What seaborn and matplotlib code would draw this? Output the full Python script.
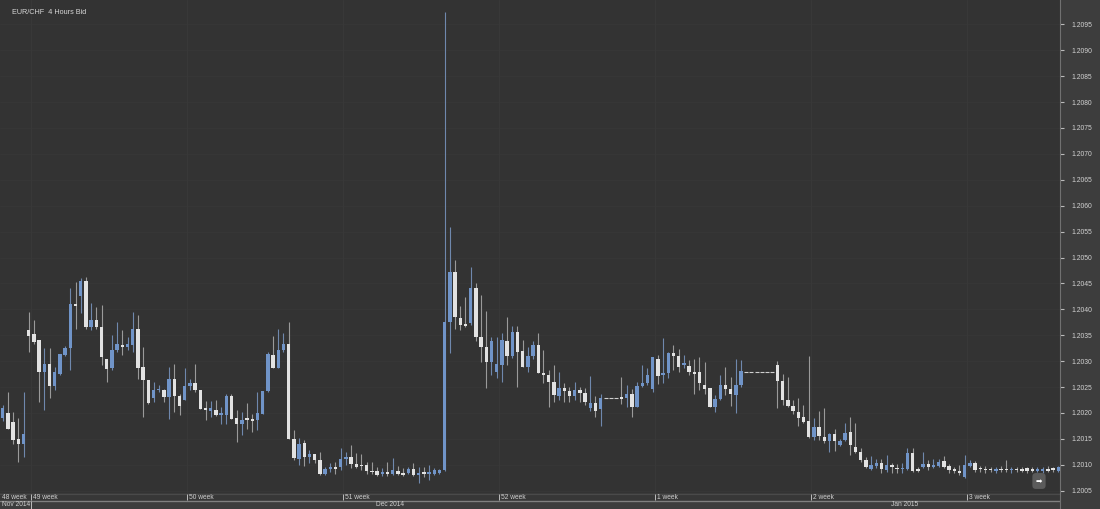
import numpy as np
import pandas as pd
import seaborn as sns
import matplotlib.pyplot as plt

# EUR/CHF 4h candles (open, high, low, close)
opens = [1.2019, 1.2020, 1.20183, 1.20149, 1.20141, 1.20361, 1.20352, 1.20341, 1.20279, 1.20294,
         1.20252, 1.20276, 1.20312, 1.20326, 1.2041, 1.20425, 1.20454, 1.20365, 1.2038, 1.20365,
         1.20305, 1.20286, 1.20321, 1.20329, 1.20328, 1.20331, 1.20363, 1.20288, 1.20263, 1.20228,
         1.20244, 1.20244, 1.20231, 1.20266, 1.20232, 1.20226, 1.20252, 1.20258, 1.20244, 1.2021,
         1.20204, 1.20206, 1.20197, 1.20197, 1.20232, 1.2019, 1.20179, 1.20189, 1.20187, 1.20187,
         1.20199, 1.20242, 1.20312, 1.20287, 1.20321, 1.20334, 1.2015, 1.20112, 1.20142, 1.20115,
         1.2012, 1.20109, 1.20082, 1.20091, 1.20096, 1.20096, 1.20111, 1.20115, 1.20101, 1.20099,
         1.20099, 1.20088, 1.20088, 1.20083, 1.20085, 1.20083, 1.20088, 1.20085, 1.20085, 1.20091,
         1.20081, 1.20085, 1.20083, 1.20083, 1.20085, 1.2009, 1.20376, 1.20473, 1.20384, 1.20372,
         1.20374, 1.20442, 1.20347, 1.20327, 1.20299, 1.2028, 1.20293, 1.20338, 1.2031, 1.20357,
         1.2032, 1.20289, 1.20309, 1.20331, 1.20278, 1.20273, 1.20259, 1.20232, 1.20248, 1.20242,
         1.20232, 1.20244, 1.20238, 1.20209, 1.20219, 1.20207, 1.20228, 1.20228, 1.20228, 1.2023,
         1.20228, 1.20237, 1.20211, 1.20253, 1.20257, 1.20246, 1.20305, 1.20273, 1.20278, 1.20315,
         1.2031, 1.20292, 1.2029, 1.20279, 1.20279, 1.20254, 1.20249, 1.20211, 1.20227, 1.20254,
         1.20247, 1.20235, 1.20254, 1.2028, 1.2028, 1.2028, 1.2028, 1.2028, 1.2028, 1.20292,
         1.20262, 1.20226, 1.20213, 1.20202, 1.20193, 1.20184, 1.20154, 1.20172, 1.20154, 1.20145,
         1.20159, 1.20138, 1.20148, 1.20164, 1.20135, 1.20124, 1.20109, 1.20092, 1.20098, 1.20104,
         1.2009, 1.201, 1.20094, 1.20092, 1.20091, 1.20123, 1.20091, 1.20095, 1.20102, 1.20096,
         1.20098, 1.20108, 1.20098, 1.20091, 1.20089, 1.20076, 1.20098, 1.20104, 1.20093, 1.20092,
         1.20092, 1.20089, 1.20091, 1.20091, 1.2009, 1.20092, 1.20091, 1.20093, 1.20091, 1.20089,
         1.20088, 1.20091, 1.20094, 1.20089]
highs = [1.20215, 1.2024, 1.20202, 1.20191, 1.2024, 1.20395, 1.20379, 1.20341, 1.20325, 1.20325,
         1.20289, 1.20314, 1.2033, 1.20441, 1.20452, 1.2046, 1.20463, 1.20412, 1.20405, 1.20408,
         1.20305, 1.2035, 1.20376, 1.2036, 1.20347, 1.20395, 1.20389, 1.20328, 1.20263, 1.2026,
         1.20254, 1.20247, 1.20289, 1.20295, 1.20237, 1.20286, 1.20266, 1.20295, 1.20244, 1.20224,
         1.20224, 1.20226, 1.20212, 1.20237, 1.20237, 1.20205, 1.20202, 1.2022, 1.20199, 1.20241,
         1.20242, 1.20318, 1.20348, 1.20363, 1.20354, 1.20376, 1.20168, 1.20151, 1.20147, 1.20128,
         1.2012, 1.20125, 1.20096, 1.20103, 1.20106, 1.20132, 1.20125, 1.20138, 1.20122, 1.2012,
         1.20106, 1.20106, 1.20096, 1.20094, 1.20106, 1.20114, 1.20097, 1.20093, 1.20096, 1.20103,
         1.20096, 1.20096, 1.20099, 1.20093, 1.20091, 1.20974, 1.20558, 1.20496, 1.20406, 1.20423,
         1.20482, 1.2045, 1.20428, 1.20396, 1.20347, 1.20347, 1.20354, 1.20386, 1.20367, 1.20367,
         1.20341, 1.20328, 1.20338, 1.20355, 1.20322, 1.20283, 1.20293, 1.2028, 1.20257, 1.20251,
         1.2026, 1.20251, 1.20248, 1.20271, 1.20232, 1.20237, 1.20228, 1.20228, 1.20228, 1.20269,
         1.20254, 1.20247, 1.2026, 1.20292, 1.20286, 1.20308, 1.20312, 1.20344, 1.20318, 1.20331,
         1.20324, 1.20312, 1.20302, 1.20305, 1.20308, 1.20299, 1.20249, 1.20235, 1.20273, 1.20289,
         1.2027, 1.20305, 1.20302, 1.2028, 1.2028, 1.2028, 1.2028, 1.2028, 1.2028, 1.20301,
         1.20276, 1.2027, 1.20225, 1.20228, 1.20215, 1.2031, 1.2019, 1.20204, 1.20209, 1.20162,
         1.2017, 1.2015, 1.20181, 1.20193, 1.2018, 1.20132, 1.20116, 1.20117, 1.20112, 1.20112,
         1.20119, 1.20104, 1.20102, 1.20104, 1.20132, 1.20132, 1.20096, 1.20125, 1.20109, 1.20112,
         1.20112, 1.20117, 1.20102, 1.20095, 1.201, 1.20119, 1.20109, 1.20108, 1.20098, 1.20098,
         1.20096, 1.20096, 1.20098, 1.20109, 1.20096, 1.20096, 1.20095, 1.20095, 1.20095, 1.20096,
         1.20096, 1.20098, 1.20096, 1.20098]
lows = [1.20185, 1.2017, 1.2014, 1.20105, 1.20115, 1.20318, 1.20334, 1.20221, 1.20205, 1.20228,
        1.20244, 1.20273, 1.2031, 1.20283, 1.20363, 1.20392, 1.20363, 1.2036, 1.20363, 1.20292,
        1.2026, 1.20283, 1.20318, 1.20312, 1.20321, 1.20318, 1.20266, 1.20192, 1.20218, 1.20221,
        1.2024, 1.20221, 1.20189, 1.20202, 1.20197, 1.20225, 1.20244, 1.2024, 1.20208, 1.20187,
        1.20192, 1.20195, 1.20179, 1.20179, 1.20189, 1.20144, 1.20157, 1.20169, 1.20163, 1.20167,
        1.20199, 1.20241, 1.20286, 1.20286, 1.20318, 1.2015, 1.2011, 1.20099, 1.20097, 1.20103,
        1.20103, 1.2008, 1.2008, 1.20086, 1.20083, 1.2009, 1.20099, 1.20093, 1.20093, 1.2009,
        1.20083, 1.20083, 1.20079, 1.20078, 1.20078, 1.2008, 1.2008, 1.20078, 1.20082, 1.20078,
        1.20065, 1.20077, 1.2007, 1.2008, 1.20083, 1.20088, 1.20315, 1.20363, 1.2036, 1.20365,
        1.2037, 1.20338, 1.20299, 1.20248, 1.20273, 1.20267, 1.2026, 1.20293, 1.20307, 1.20251,
        1.20289, 1.2028, 1.20305, 1.20277, 1.20257, 1.20212, 1.20222, 1.20225, 1.20222, 1.20222,
        1.20225, 1.20222, 1.20215, 1.20203, 1.20193, 1.20174, 1.20228, 1.20228, 1.20228, 1.20217,
        1.20212, 1.20193, 1.20211, 1.20251, 1.20254, 1.20241, 1.20256, 1.20257, 1.20267, 1.20283,
        1.20279, 1.20286, 1.20273, 1.20237, 1.20244, 1.20237, 1.20212, 1.20201, 1.20225, 1.20235,
        1.20213, 1.202, 1.20251, 1.2028, 1.2028, 1.2028, 1.2028, 1.2028, 1.2028, 1.20209,
        1.20215, 1.20212, 1.20198, 1.20175, 1.2018, 1.20151, 1.20148, 1.20148, 1.20143, 1.20125,
        1.20127, 1.20136, 1.20146, 1.20119, 1.20122, 1.20106, 1.20093, 1.2009, 1.20093, 1.20084,
        1.20087, 1.20085, 1.20084, 1.20085, 1.2009, 1.20087, 1.20087, 1.20093, 1.2009, 1.20093,
        1.20095, 1.20093, 1.20084, 1.20084, 1.2008, 1.20074, 1.20096, 1.20087, 1.20087, 1.20085,
        1.20087, 1.20085, 1.20087, 1.20087, 1.20085, 1.20087, 1.20087, 1.20085, 1.20087, 1.20086,
        1.20085, 1.20086, 1.20087, 1.20087]
closes = [1.2021, 1.2017, 1.20147, 1.20141, 1.20159, 1.20348, 1.20337, 1.20279, 1.20294, 1.20252,
          1.20279, 1.20314, 1.20326, 1.2041, 1.20407, 1.20454, 1.20366, 1.2038, 1.20365, 1.20308,
          1.20285, 1.20321, 1.20334, 1.20328, 1.20333, 1.20363, 1.20286, 1.20263, 1.20219, 1.20244,
          1.20247, 1.2023, 1.20266, 1.20232, 1.20213, 1.20252, 1.20258, 1.20244, 1.20208, 1.20206,
          1.2021, 1.20197, 1.20199, 1.20232, 1.20189, 1.20179, 1.20186, 1.20187, 1.20185, 1.202,
          1.20242, 1.20313, 1.20287, 1.20321, 1.20333, 1.2015, 1.20114, 1.20141, 1.20115, 1.2012,
          1.20109, 1.20082, 1.20092, 1.20096, 1.20092, 1.20112, 1.20115, 1.20101, 1.20096, 1.20097,
          1.20088, 1.20086, 1.2008, 1.20085, 1.20083, 1.2009, 1.20082, 1.2008, 1.20091, 1.2008,
          1.20083, 1.20083, 1.20086, 1.2009, 1.2009, 1.20376, 1.20473, 1.20385, 1.2037, 1.20368,
          1.20442, 1.20347, 1.20327, 1.20299, 1.20338, 1.20294, 1.2034, 1.2031, 1.20357, 1.20318,
          1.20289, 1.2031, 1.20331, 1.20278, 1.20273, 1.2026, 1.20235, 1.20248, 1.20243, 1.20233,
          1.20244, 1.20238, 1.20222, 1.20219, 1.20203, 1.20228, 1.20228, 1.20228, 1.20228, 1.20227,
          1.20237, 1.20211, 1.20253, 1.20258, 1.20273, 1.20308, 1.20271, 1.20278, 1.20315, 1.2031,
          1.20289, 1.20296, 1.20279, 1.20276, 1.20257, 1.20247, 1.20212, 1.20227, 1.20254, 1.20246,
          1.20237, 1.20254, 1.20281, 1.2028, 1.2028, 1.2028, 1.2028, 1.2028, 1.2028, 1.20262,
          1.20226, 1.20213, 1.20204, 1.2019, 1.20182, 1.20153, 1.20172, 1.20155, 1.20145, 1.20159,
          1.20145, 1.20146, 1.20162, 1.20138, 1.20124, 1.20109, 1.20096, 1.201, 1.20104, 1.20091,
          1.201, 1.20096, 1.20092, 1.20094, 1.20123, 1.20089, 1.20089, 1.20102, 1.20096, 1.20099,
          1.20106, 1.20095, 1.2009, 1.20089, 1.20085, 1.201, 1.20104, 1.2009, 1.20091, 1.2009,
          1.2009, 1.20092, 1.2009, 1.2009, 1.20092, 1.2009, 1.20089, 1.20088, 1.20089, 1.20092,
          1.20091, 1.20089, 1.2009, 1.20096]

week_labels = ['48 week', '49 week', '50 week', '51 week', '52 week', '1 week', '2 week', '3 week']
week_starts = [0, 6, 36, 66, 96, 126, 156, 186]      # candle index where each week begins
month_labels = ['Nov 2014', 'Dec 2014', 'Jan 2015']
month_starts = [0, 6, 144]
price_ticks = np.arange(1.2005, 1.20951, 0.0005)

BG = '#333333'
PANEL = '#3d3d3d'
BLUE = '#7094c8'
WHITE = '#e2e2e2'

sns.set_theme(style='dark', rc={'axes.facecolor': BG, 'figure.facecolor': PANEL})
plt.rcParams['font.family'] = ['Liberation Sans', 'DejaVu Sans']

df = pd.DataFrame({'o': opens, 'h': highs, 'l': lows, 'c': closes})
df['x'] = np.arange(len(df))
df['up'] = df['c'] >= df['o']
df['flat'] = df['h'] == df['l']
df['bottom'] = df[['o', 'c']].min(axis=1)
df['height'] = (df['c'] - df['o']).abs().clip(lower=0.000025)
n = len(df)

fig = plt.figure(figsize=(11, 5.09), dpi=100)
ax = fig.add_axes([0, 16 / 509, 1060 / 1100, 493 / 509])
axb = fig.add_axes([0, 0, 1060 / 1100, 16 / 509])

xlim = (-0.52, n - 0.67)
ax.set_xlim(*xlim)
ax.set_ylim(1.200456, 1.209969)

# faint grid
for p in price_ticks:
    ax.axhline(p, color='#373737', lw=0.6, zorder=0)
for w in week_starts[1:]:
    ax.axvline(w - 0.5, color='#393939', lw=0.7, zorder=0)

live = df[~df['flat']]
up = live[live['up']]
dn = live[~live['up']]
ax.vlines(up['x'], up['l'], up['h'], color='#6f88ad', lw=0.8, zorder=2)
ax.vlines(dn['x'], dn['l'], dn['h'], color='#9a9a9a', lw=0.8, zorder=2)
ax.bar(up['x'], up['height'], bottom=up['bottom'], width=0.68, color=BLUE, lw=0, zorder=3)
ax.bar(dn['x'], dn['height'], bottom=dn['bottom'], width=0.68, color=WHITE, lw=0, zorder=3)

# no-trade periods show as short flat dashes
flat = df[df['flat']]
sns.scatterplot(data=flat, x='x', y='c', marker='_', s=9, color='#cfcfcf',
                linewidth=0.8, ax=ax, legend=False, zorder=3)

ax.set_xlabel('')
ax.set_ylabel('')
ax.set_xticks([])
ax.yaxis.tick_right()
ax.set_yticks(price_ticks)
ax.set_yticklabels([f'{p:.4f}' for p in price_ticks])
ax.tick_params(axis='y', right=True, length=3, width=0.8, color='#bbbbbb', pad=5,
               labelsize=4.9, labelcolor='#d2d2d2')
for s in ['top', 'left', 'bottom']:
    ax.spines[s].set_visible(False)
ax.spines['right'].set_color('#707070')
ax.spines['right'].set_linewidth(0.8)

ax.text(0.011, 0.982, 'EUR/CHF  4 Hours Bid', transform=ax.transAxes, ha='left', va='top',
        fontsize=5.2, color='#d8d8d8')

ax.text(1039 / 1060, 1 - 481 / 493, '\u27a1', transform=ax.transAxes, ha='center', va='center',
        fontsize=5.5, color='white', family=['DejaVu Sans'],
        bbox=dict(boxstyle='round,pad=0.45', fc='#5b5b5b', ec='none'), zorder=5)

# bottom band: weeks and months
axb.set_facecolor(BG)
axb.set_xlim(*xlim)
axb.set_ylim(0, 16)
axb.axis('off')
axb.axhspan(8.3, 15.5, color='#373737', zorder=0)
axb.axhline(15.5, color='#4a4a4a', lw=0.8)
axb.axhline(8.3, color='#808080', lw=1.0)
for lab, w in zip(week_labels, week_starts):
    if w > 0:
        axb.vlines(w - 0.5, 8.6, 15.2, color='#bdbdbd', lw=0.7)
    axb.text(w - 0.5 + 0.35, 11.8, lab, ha='left', va='center', fontsize=4.8, color='#cfcfcf')
month_edges = month_starts + [n]
for k, lab in enumerate(month_labels):
    a, b = month_edges[k] - 0.5, month_edges[k + 1] - 0.5
    if k == 0:
        axb.text(a + 0.35, 4.0, lab, ha='left', va='center', fontsize=4.8, color='#cfcfcf')
        axb.vlines(b, 0.5, 8.0, color='#bdbdbd', lw=0.7)
    else:
        axb.text((a + min(b, xlim[1])) / 2, 4.0, lab, ha='center', va='center', fontsize=4.8,
                 color='#cfcfcf')

fig.add_artist(plt.Line2D([1060 / 1100, 1060 / 1100], [0, 16 / 509], color='#707070', lw=0.8))

fig.savefig('out.png', dpi=100, facecolor=PANEL)
